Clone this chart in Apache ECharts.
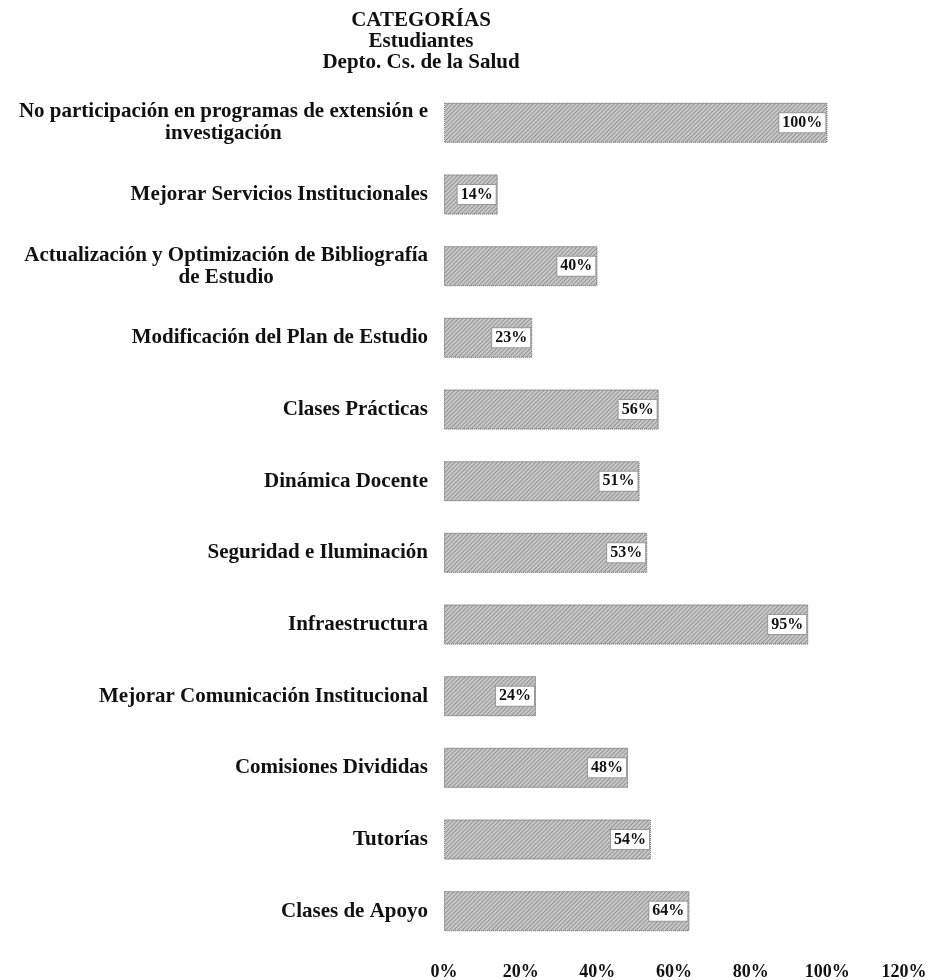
<!DOCTYPE html>
<html>
<head>
<meta charset="utf-8">
<script src="https://cdn.jsdelivr.net/npm/echarts@6/dist/echarts.min.js"></script>
<style>
html,body{margin:0;padding:0;background:#fff;}
#chart{width:928px;height:980px;}
</style>
</head>
<body>
<div id="chart"></div>
<script>
var titleLines = ['CATEGORÍAS', 'Estudiantes', 'Depto. Cs. de la Salud'];
var categories = [
  'No participación en programas de extensión e\ninvestigación',
  'Mejorar Servicios Institucionales',
  'Actualización y Optimización de Bibliografía\nde Estudio',
  'Modificación del Plan de Estudio',
  'Clases Prácticas',
  'Dinámica Docente',
  'Seguridad e Iluminación',
  'Infraestructura',
  'Mejorar Comunicación Institucional',
  'Comisiones Divididas',
  'Tutorías',
  'Clases de Apoyo'
];
var values = [100, 14, 40, 23, 56, 51, 53, 95, 24, 48, 54, 64];
var xTicks = [0, 20, 40, 60, 80, 100, 120];

var FONT = '"Liberation Serif", "Times New Roman", serif';
var chart = echarts.init(document.getElementById('chart'));
chart.setOption({
  backgroundColor: '#ffffff',
  animation: false,
  title: {
    text: titleLines.join('\n'),
    left: 416,
    top: 5,
    textAlign: 'center',
    textStyle: {
      fontFamily: FONT, fontWeight: 'bold', fontSize: 21, color: '#111', lineHeight: 21
    }
  },
  grid: { left: 444, right: 24, top: 87, bottom: 33, containLabel: false, outerBoundsMode: 'none' },
  xAxis: {
    type: 'value',
    min: xTicks[0],
    max: xTicks[xTicks.length - 1],
    interval: 20,
    axisLine: { show: false },
    axisTick: { show: false },
    splitLine: { show: false },
    axisLabel: {
      margin: 16,
      formatter: '{value}%',
      fontFamily: FONT, fontWeight: 'bold', fontSize: 18, color: '#111'
    }
  },
  yAxis: {
    type: 'category',
    inverse: true,
    data: categories,
    axisLine: { show: false },
    axisTick: { show: false },
    splitLine: { show: false },
    axisLabel: {
      margin: 16,
      align: 'right',
      formatter: function (v) {
        return v.split('\n').map(function (l) { return '{c|' + l + '}'; }).join('\n');
      },
      rich: {
        c: {
          align: 'center',
          fontFamily: FONT, fontWeight: 'bold', fontSize: 21, color: '#111', lineHeight: 22
        }
      }
    }
  },
  series: [{
    type: 'bar',
    data: values,
    barWidth: 40,
    itemStyle: {
      color: '#c8c8c8',
      borderColor: '#8a8a8a',
      borderWidth: 1,
      borderType: 'dotted',
      decal: {
        symbol: 'rect',
        dashArrayX: [1, 0],
        dashArrayY: [1, 2],
        rotation: -Math.PI / 4,
        color: 'rgba(70,70,70,0.4)'
      }
    },
    label: {
      show: true,
      position: 'insideRight',
      distance: 2,
      formatter: '{c}%',
      backgroundColor: '#ffffff',
      borderColor: '#999',
      borderWidth: 1,
      padding: [2, 3, 1, 3],
      fontFamily: FONT, fontWeight: 'bold', fontSize: 16, color: '#111'
    }
  }]
});
</script>
</body>
</html>
